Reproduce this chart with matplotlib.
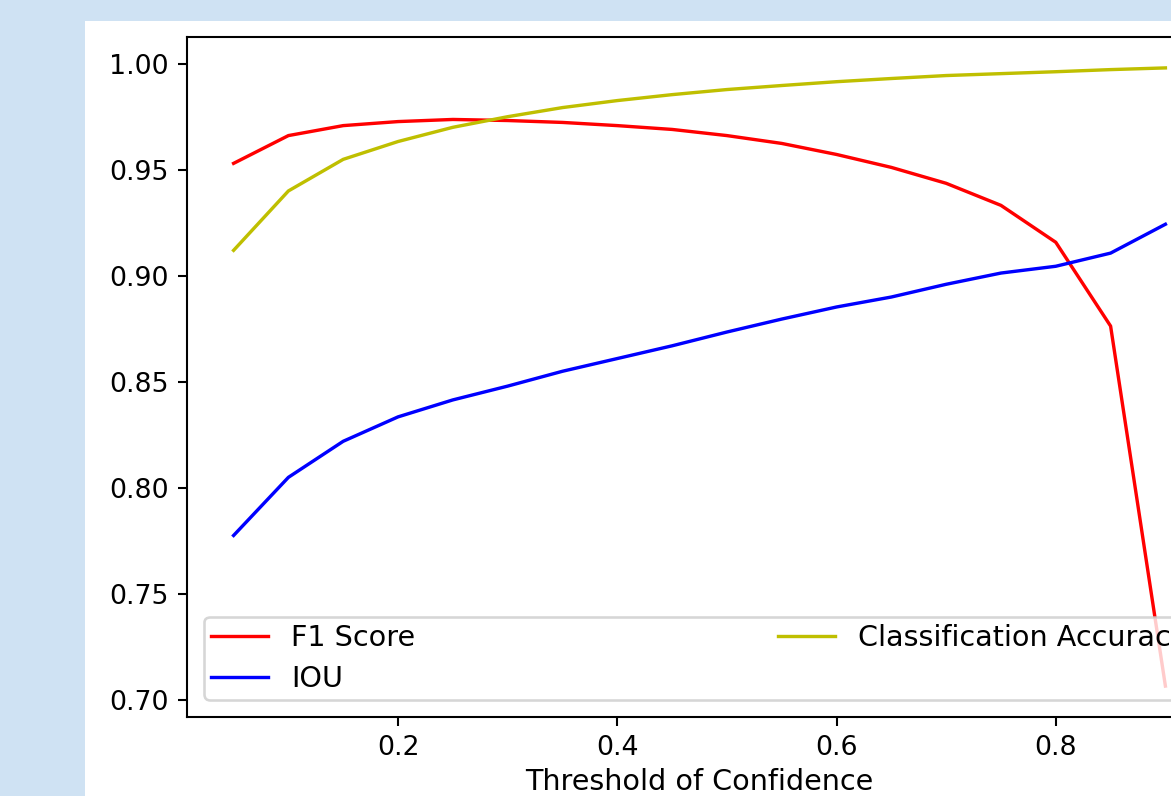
import matplotlib
matplotlib.use("Agg")
import matplotlib.pyplot as plt
from matplotlib.patches import Rectangle

thresholds = [0.05, 0.10, 0.15, 0.20, 0.25, 0.30, 0.35, 0.40, 0.45,
              0.50, 0.55, 0.60, 0.65, 0.70, 0.75, 0.80, 0.85, 0.90]
f1_score = [0.953, 0.9661, 0.9708, 0.9727, 0.9737, 0.9732, 0.9723, 0.9708, 0.969,
            0.9661, 0.9624, 0.9572, 0.9511, 0.9436, 0.9332, 0.9158, 0.8763, 0.7066]
iou = [0.7776, 0.805, 0.822, 0.8335, 0.8415, 0.848, 0.855, 0.861, 0.867,
       0.8735, 0.8796, 0.8853, 0.890, 0.896, 0.9013, 0.9045, 0.9107, 0.9243]
accuracy = [0.912, 0.940, 0.9549, 0.9633, 0.970, 0.975, 0.9793, 0.9826, 0.9854,
            0.9878, 0.9897, 0.9915, 0.993, 0.9944, 0.9953, 0.9962, 0.9972, 0.998]

W, H = 1171, 796
dpi = 187
fig = plt.figure(figsize=(W / dpi, H / dpi), dpi=dpi, facecolor='#cfe2f3')

# white sheet of the screenshot, kept behind the axes
fig.patches.append(Rectangle((85 / W, 0), 1 - 85 / W, (H - 21) / H,
                             transform=fig.transFigure, facecolor='white',
                             edgecolor='none', zorder=-1))

# axes run off the right edge like in the cropped screenshot
ax = fig.add_axes([187 / W, (H - 717) / H, (1212 - 187) / W, (717 - 37) / H])

ax.plot(thresholds, f1_score, 'r', lw=1.3, label='F1 Score')
ax.plot(thresholds, iou, 'b', lw=1.3, label='IOU')
ax.plot(thresholds, accuracy, 'y', lw=1.3, label='Classification Accuracy')

ax.set_xticks([0.2, 0.4, 0.6, 0.8])
ax.set_yticks([0.70, 0.75, 0.80, 0.85, 0.90, 0.95, 1.00])
ax.tick_params(labelsize=10.3)
ax.set_xlabel('Threshold of Confidence', fontsize=11, labelpad=2.5)

ax.legend(loc='lower left', ncol=2, mode='expand', fontsize=11,
          borderpad=0.25, labelspacing=0.45, borderaxespad=0.6)

fig.savefig('out.png', dpi=dpi, facecolor=fig.get_facecolor())
